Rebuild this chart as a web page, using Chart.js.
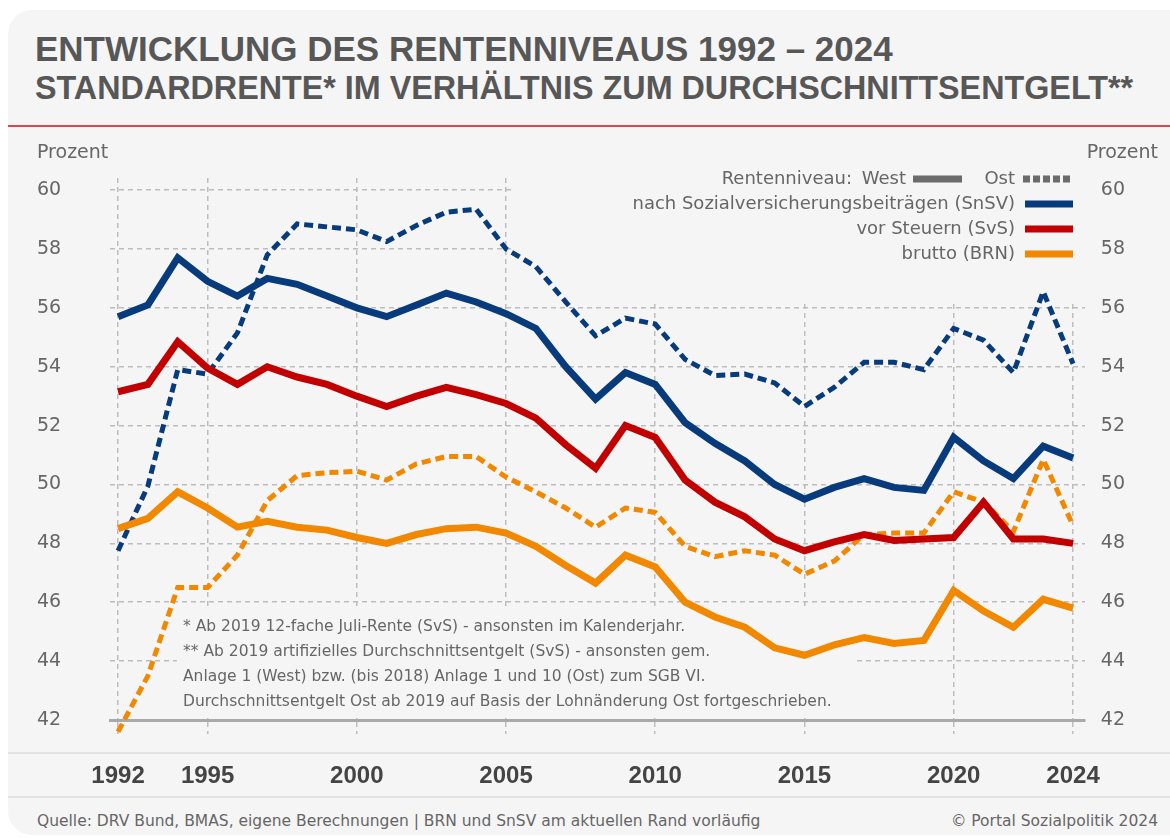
<!DOCTYPE html>
<html lang="de">
<head>
<meta charset="utf-8">
<title>Entwicklung des Rentenniveaus 1992 – 2024</title>
<script src="https://cdn.jsdelivr.net/npm/chart.js@4/dist/chart.umd.min.js"></script>
<style>
  html, body { margin: 0; padding: 0; background: #fff; }
  body { width: 1170px; height: 838px; position: relative; overflow: hidden; }
  #card { position: absolute; left: 8px; top: 10px; width: 1200px; height: 825px; background: #f5f5f5; border-radius: 24px; }
  .title { position: absolute; left: 35px; margin: 0; color: #575757; font-family: "Liberation Sans", Arial, sans-serif; font-weight: bold; white-space: nowrap; }
  #t1 { top: 31px; font-size: 35px; line-height: 35px; }
  #t2 { top: 72px; font-size: 32.3px; line-height: 32px; }
  #rule { position: absolute; left: 8px; top: 125px; width: 1170px; height: 2px; background: #d9474a; }
  .sep { position: absolute; left: 8px; width: 1170px; height: 2px; background: #e2e2e2; }
  .foot { position: absolute; top: 812px; font-family: "DejaVu Sans", Verdana, sans-serif; font-size: 15.5px; color: #666; white-space: nowrap; }
  #wrap { position: absolute; left: 0; top: 0; width: 1170px; height: 838px; }
</style>
</head>
<body>
<div id="card"></div>
<h1 class="title" id="t1">ENTWICKLUNG DES RENTENNIVEAUS 1992 – 2024</h1>
<h2 class="title" id="t2">STANDARDRENTE* IM VERHÄLTNIS ZUM DURCHSCHNITTSENTGELT**</h2>
<div id="rule"></div>
<div class="sep" style="top:752px"></div>
<div class="sep" style="top:796px"></div>
<div class="foot" style="left:37px">Quelle: DRV Bund, BMAS, eigene Berechnungen | BRN und SnSV am aktuellen Rand vorläufig</div>
<div class="foot" style="right:12px">© Portal Sozialpolitik 2024</div>
<div id="wrap"><canvas id="myChart"></canvas></div>

<script>
// Jahre 1992 - 2024
const years = [1992, 1993, 1994, 1995, 1996, 1997, 1998, 1999, 2000, 2001, 2002, 2003, 2004,
               2005, 2006, 2007, 2008, 2009, 2010, 2011, 2012, 2013, 2014, 2015,
               2016, 2017, 2018, 2019, 2020, 2021, 2022, 2023, 2024];

// Rentenniveau West (durchgezogen)
const snsvWest = [55.7, 56.1, 57.7, 56.9, 56.4, 57.0, 56.8, 56.4, 56.0, 55.7, 56.1, 56.5, 56.2,
                  55.8, 55.3, 54.0, 52.9, 53.8, 53.4, 52.1, 51.4, 50.8, 50.0, 49.5,
                  49.9, 50.2, 49.9, 49.8, 51.6, 50.8, 50.2, 51.3, 50.9];
const svsWest = [53.15, 53.4, 54.85, 53.95, 53.4, 54.0, 53.65, 53.4, 53.0, 52.65, 53.0, 53.3, 53.05,
                 52.75, 52.25, 51.35, 50.55, 52.0, 51.6, 50.15, 49.4, 48.9, 48.15, 47.75,
                 48.05, 48.3, 48.1, 48.15, 48.2, 49.4, 48.15, 48.15, 48.0];
const brnWest = [48.5, 48.85, 49.75, 49.2, 48.55, 48.75, 48.55, 48.45, 48.2, 48.0, 48.3, 48.5, 48.55,
                 48.35, 47.9, 47.25, 46.65, 47.6, 47.2, 46.0, 45.5, 45.15, 44.45, 44.2,
                 44.55, 44.8, 44.6, 44.7, 46.4, 45.7, 45.15, 46.1, 45.8];

// Rentenniveau Ost (gestrichelt)
const snsvOst = [47.75, 49.95, 53.9, 53.75, 55.15, 57.8, 58.85, 58.75, 58.65, 58.25, 58.8, 59.25, 59.35,
                 58.0, 57.4, 56.2, 55.05, 55.65, 55.45, 54.25, 53.7, 53.75, 53.45, 52.65,
                 53.3, 54.15, 54.15, 53.9, 55.3, 54.9, 53.8, 56.55, 54.1];
const brnOst = [41.6, 43.5, 46.5, 46.5, 47.6, 49.45, 50.3, 50.4, 50.45, 50.15, 50.7, 50.95, 50.95,
                50.25, 49.75, 49.2, 48.55, 49.2, 49.05, 47.9, 47.55, 47.75, 47.6, 46.95,
                47.4, 48.3, 48.35, 48.35, 49.75, 49.4, 48.4, 50.85, 48.6];

const xTicks = [1992, 1995, 2000, 2005, 2010, 2015, 2020, 2024];
const yTicks = [42, 44, 46, 48, 50, 52, 54, 56, 58, 60];

const legendRows = [
    {label: 'nach Sozialversicherungsbeiträgen (SnSV)', color: '#073b7b'},
    {label: 'vor Steuern (SvS)', color: '#c20000'},
    {label: 'brutto (BRN)', color: '#f28800'}
];

const footnotes = [
    '* Ab 2019 12-fache Juli-Rente (SvS) - ansonsten im Kalenderjahr.',
    '** Ab 2019 artifizielles Durchschnittsentgelt (SvS) - ansonsten gem.',
    'Anlage 1 (West) bzw. (bis 2018) Anlage 1 und 10 (Ost) zum SGB VI.',
    'Durchschnittsentgelt Ost ab 2019 auf Basis der Lohnänderung Ost fortgeschrieben.'
];

const BG = '#f5f5f5';
const GRID = '#bdbdbd';
const TXT = '#666';

function pts(values) {
    return years.map((yr, i) => ({x: yr, y: values[i]}));
}

function solid(label, values, color) {
    return {label: label, data: pts(values), borderColor: color, borderWidth: 7,
            pointRadius: 0, tension: 0, clip: false};
}
function dashed(label, values, color) {
    return {label: label, data: pts(values), borderColor: color, borderWidth: 5,
            borderDash: [9, 5], pointRadius: 0, tension: 0, clip: false};
}

// Hintergrund hinter Legende und Fussnoten freistellen, Texte zeichnen
const decor = {
    id: 'decor',
    beforeDatasetsDraw(chart) {
        const {ctx, chartArea, scales: {x, y}} = chart;
        ctx.save();
        ctx.fillStyle = BG;
        const lx = x.getPixelForValue(2005.3);
        ctx.fillRect(lx, chartArea.top - 2, chartArea.right + 4 - lx, y.getPixelForValue(56.15) - chartArea.top + 2);
        const fx0 = x.getPixelForValue(1993.97), fx1 = x.getPixelForValue(2016.7);
        const fy0 = y.getPixelForValue(45.85), fy1 = y.getPixelForValue(42.08);
        ctx.fillRect(fx0, fy0, fx1 - fx0, fy1 - fy0);

        // Prozent
        ctx.fillStyle = TXT;
        ctx.font = '19px "DejaVu Sans"';
        ctx.textBaseline = 'middle';
        ctx.textAlign = 'left';
        ctx.fillText('Prozent', 37, 153);
        ctx.textAlign = 'right';
        ctx.fillText('Prozent', 1158, 153);

        // Legende
        ctx.font = '18px "DejaVu Sans"';
        ctx.fillText('Rentenniveau:', 852, 179);
        ctx.fillText('West', 906, 179);
        ctx.fillText('Ost', 1015, 179);
        ctx.lineWidth = 7;
        ctx.strokeStyle = '#6b6b6b';
        ctx.beginPath(); ctx.moveTo(913, 179); ctx.lineTo(962, 179); ctx.stroke();
        ctx.setLineDash([7, 3]);
        ctx.beginPath(); ctx.moveTo(1023, 179); ctx.lineTo(1073, 179); ctx.stroke();
        ctx.setLineDash([]);
        legendRows.forEach((r, i) => {
            const yy = 204 + i * 25;
            ctx.fillStyle = TXT;
            ctx.fillText(r.label, 1015, yy);
            ctx.strokeStyle = r.color;
            ctx.beginPath(); ctx.moveTo(1025, yy); ctx.lineTo(1073, yy); ctx.stroke();
        });

        // Fussnoten
        ctx.font = '15.5px "DejaVu Sans"';
        ctx.textAlign = 'left';
        ctx.fillStyle = TXT;
        footnotes.forEach((t, i) => ctx.fillText(t, 183, 627 + i * 25));
        ctx.restore();
    }
};

function draw_chart() {
    const ctx = document.getElementById('myChart');

    new Chart(ctx, {
        type: 'line',
        data: {
            datasets: [
                solid('SnSV West', snsvWest, legendRows[0].color),
                solid('SvS West', svsWest, legendRows[1].color),
                solid('BRN West', brnWest, legendRows[2].color),
                dashed('SnSV Ost', snsvOst, legendRows[0].color),
                dashed('BRN Ost', brnOst, legendRows[2].color)
            ]
        },
        options: {
            responsive: true,
            maintainAspectRatio: false,
            animation: false,
            layout: {
                padding: {left: 37, right: 45, top: 178, bottom: 40}
            },
            plugins: {
                legend: {display: false},
                tooltip: {enabled: false},
                title: {display: false}
            },
            scales: {
                x: {
                    type: 'linear',
                    min: 1991.73,
                    max: 2024.4,
                    afterBuildTicks: (scale) => { scale.ticks = xTicks.map(v => ({value: v})); },
                    afterFit: (scale) => { scale.height = 78; },
                    grid: {
                        color: GRID,
                        lineWidth: 1.5,
                        tickLength: 14,
                        tickColor: GRID,
                        tickWidth: 1.5,
                        tickBorderDash: [5, 4]
                    },
                    border: {display: true, color: '#a9a9a9', width: 3, dash: [5, 4]},
                    ticks: {
                        color: '#444',
                        padding: 28,
                        maxRotation: 0,
                        autoSkip: false,
                        font: {family: '"Liberation Sans", Arial', weight: 'bold', size: 24},
                        callback: (v) => String(v)
                    }
                },
                y: {
                    position: 'left',
                    min: 42,
                    max: 60.41,
                    afterBuildTicks: (scale) => { scale.ticks = yTicks.map(v => ({value: v})); },
                    afterFit: (scale) => { scale.width = 73; },
                    grid: {color: GRID, lineWidth: 1.5, drawTicks: false},
                    border: {display: false, dash: [5, 4]},
                    ticks: {
                        color: TXT,
                        crossAlign: 'far',
                        font: {family: '"DejaVu Sans"', size: 19}
                    }
                },
                y1: {
                    position: 'right',
                    min: 42,
                    max: 60.41,
                    afterBuildTicks: (scale) => { scale.ticks = yTicks.map(v => ({value: v})); },
                    afterFit: (scale) => { scale.width = 40; },
                    grid: {drawOnChartArea: false, drawTicks: false},
                    border: {display: false},
                    ticks: {
                        color: TXT,
                        crossAlign: 'far',
                        font: {family: '"DejaVu Sans"', size: 19}
                    }
                }
            }
        },
        plugins: [decor]
    });
}

draw_chart();
</script>
</body>
</html>
